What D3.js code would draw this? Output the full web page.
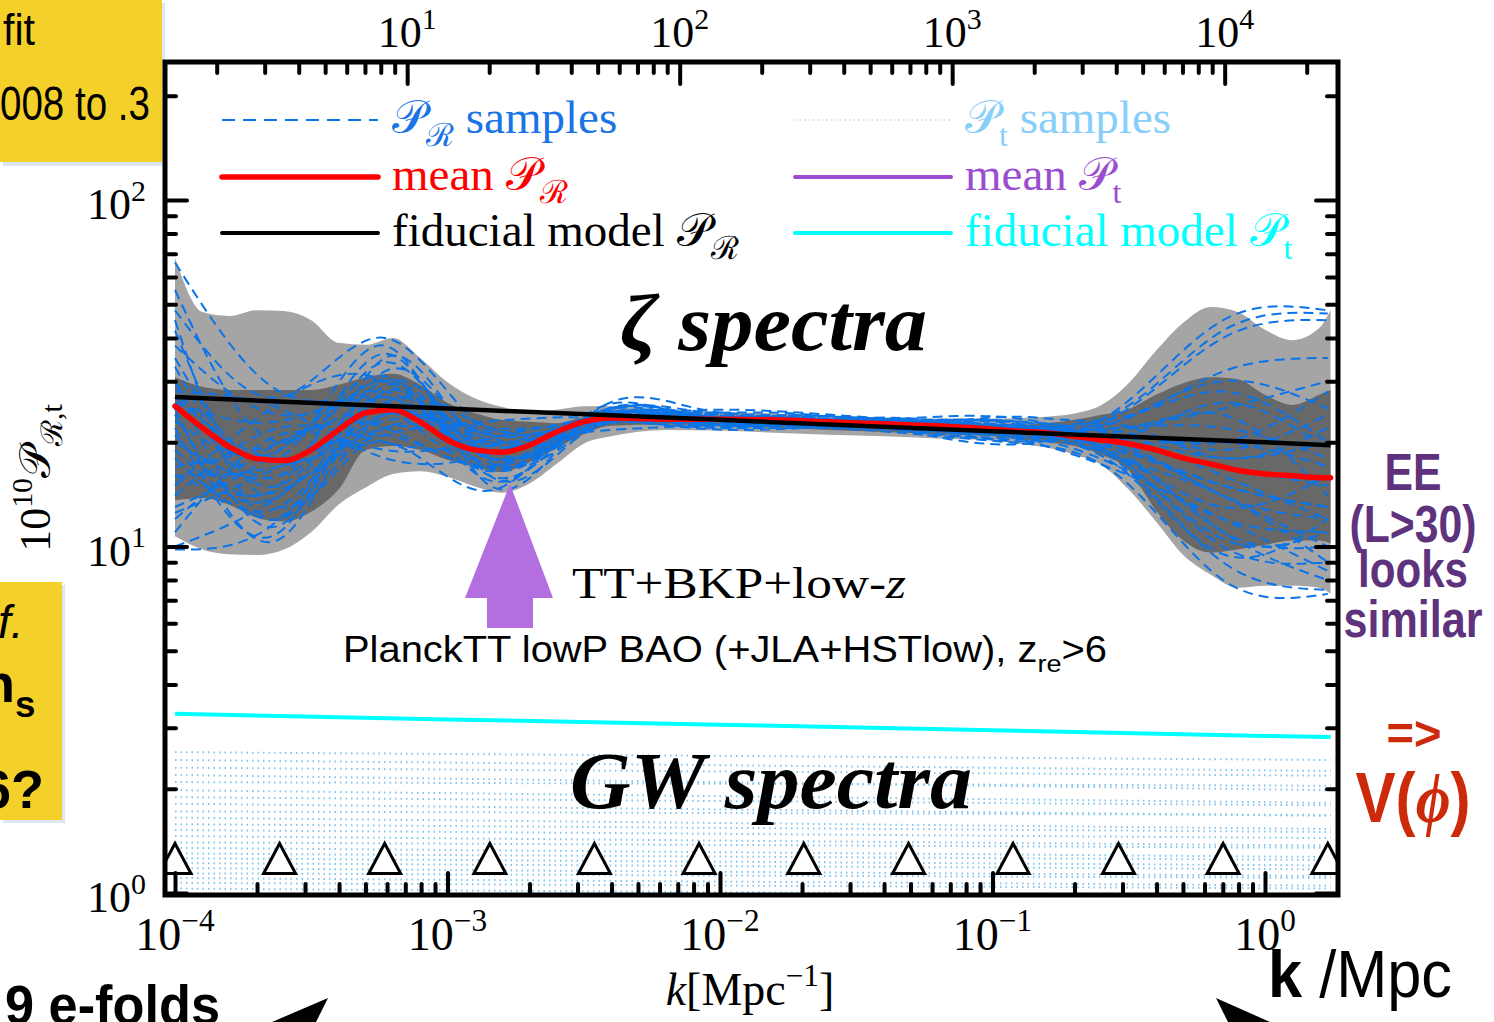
<!DOCTYPE html>
<html>
<head>
<meta charset="utf-8">
<script src="https://cdn.jsdelivr.net/npm/d3@7"></script>
<style>
  body { margin: 0; background: #fff; }
  svg { display: block; }
  text { font-family: "Liberation Serif", "DejaVu Serif", serif; }
  .sans { font-family: "Liberation Sans", Arial, sans-serif; }
</style>
</head>
<body>
<svg id="chart" width="1494" height="1022"></svg>
<script>
// ---- values (10^10 P vs k in 1/Mpc) ----
const kGrid = [1.00e-4, 1.26e-4, 1.58e-4, 2.00e-4, 2.51e-4, 3.16e-4, 3.98e-4, 5.01e-4, 6.31e-4, 7.94e-4,
               1.00e-3, 1.26e-3, 1.58e-3, 2.00e-3, 2.51e-3, 3.16e-3, 3.98e-3, 6.31e-3, 1.00e-2, 1.58e-2,
               2.51e-2, 3.98e-2, 6.31e-2, 0.100, 0.126, 0.158, 0.200, 0.251, 0.316, 0.398,
               0.501, 0.631, 0.794, 1.00, 1.26, 1.58, 1.74];
const meanR = [25.4, 22.0, 19.4, 17.9, 17.7, 19.0, 21.7, 24.3, 24.8, 22.9,
               20.3, 19.0, 18.7, 19.6, 21.4, 22.9, 23.5, 23.3, 23.3, 23.2,
               22.9, 22.6, 22.3, 21.8, 21.5, 21.3, 20.8, 20.3, 19.8, 19.0,
               18.0, 17.3, 16.6, 16.2, 16.0, 15.8, 15.8];
const band68Hi = [30.8, 28.9, 28.3, 28.3, 28.3, 28.3, 29.3, 30.8, 31.5, 29.3,
                  26.0, 24.3, 23.2, 22.9, 22.7, 23.6, 24.1, 24.1, 23.9, 23.7,
                  23.4, 23.1, 22.8, 22.5, 22.5, 22.7, 23.2, 24.0, 24.9, 27.4,
                  29.6, 30.8, 30.4, 27.4, 25.6, 27.4, 28.3];
const band68Lo = [13.6, 13.8, 13.2, 12.1, 11.8, 12.6, 14.6, 19.0, 19.5, 19.0,
                  17.8, 17.0, 16.4, 17.5, 19.2, 21.1, 22.3, 22.5, 22.3, 22.0,
                  21.7, 21.4, 21.1, 20.8, 20.4, 20.0, 19.5, 18.4, 16.6, 12.7,
                  10.4, 9.6, 9.8, 10.1, 10.4, 10.4, 10.2];
const band95Hi = [68.0, 47.5, 46.3, 48.1, 47.8, 45.0, 38.7, 38.2, 40.0, 35.0,
                  29.8, 26.8, 25.3, 24.4, 24.8, 25.4, 25.4, 24.9, 24.5, 24.2,
                  23.9, 23.6, 23.4, 23.4, 23.5, 23.7, 24.2, 25.6, 29.6, 36.7,
                  44.2, 49.1, 47.5, 42.2, 39.4, 42.7, 48.1];
const band95Lo = [10.7, 9.8, 9.5, 9.45, 9.8, 11.0, 13.2, 14.8, 16.2, 16.5,
                  15.9, 14.9, 14.3, 15.2, 17.3, 19.8, 20.8, 21.7, 21.6, 21.3,
                  21.0, 20.8, 20.5, 20.2, 19.8, 19.3, 18.4, 17.2, 14.6, 11.8,
                  9.45, 8.3, 7.6, 7.7, 7.7, 7.6, 7.3];

// spline knots (the triangles) and the sampled P_R curves through them
const knotK = [1.00e-4, 2.42e-4, 5.88e-4, 1.43e-3, 3.46e-3, 8.38e-3, 2.03e-2, 4.92e-2, 0.119, 0.290, 0.702, 1.70];
const sampleR = [
  [66, 28, 26, 19, 23.5, 23.2, 23.0, 22.55, 21.9, 20, 14, 12],
  [30, 15, 30, 20, 22.5, 24.1, 23.45, 21.9, 21.25, 22, 25, 30],
  [12, 20, 22, 17, 24, 22.75, 22.55, 22.8, 22.35, 18, 10, 9],
  [45, 12, 35, 18, 22, 23.65, 23.65, 21.5, 20.6, 24, 40, 45],
  [20, 16, 24, 21, 23, 23.0, 22.35, 22.35, 22.15, 19, 15, 13],
  [25, 10.5, 28, 16, 23.8, 23.85, 23.2, 23.2, 23.0, 21, 18, 20],
  [14, 22, 20, 19.5, 22.8, 22.55, 22.8, 22.1, 21.05, 17, 12, 11],
  [35, 18, 38, 15, 24.5, 24.95, 23.9, 22.55, 20.15, 23, 30, 25],
  [18, 13, 26, 22, 21.5, 22.3, 23.0, 23.0, 22.8, 20, 20, 17],
  [28, 25, 18, 18.5, 23.2, 23.4, 22.25, 21.7, 21.5, 18.5, 11, 8],
  [10, 14, 22, 20, 22.6, 23.65, 23.45, 22.35, 21.7, 21.5, 24, 14],
  [55, 20, 30, 17, 23.6, 22.75, 22.55, 23.45, 23.5, 19.5, 14, 10],
  [22, 11, 32, 19, 22.2, 24.3, 24.1, 21.5, 19.7, 25, 45, 48],
  [16, 17, 21, 23, 23.5, 21.9, 22.0, 22.8, 22.35, 17.5, 9, 7.5],
  [38, 24, 25, 16.5, 24.2, 23.85, 23.0, 21.9, 21.25, 22.5, 18, 22],
  [13, 19, 28, 18, 22.4, 22.75, 23.65, 23.0, 21.9, 20.5, 16, 12],
  [24, 12, 24, 21, 23.3, 23.2, 22.8, 22.1, 20.8, 18, 13, 16],
  [33, 16, 34, 17.5, 23.7, 24.5, 23.2, 22.35, 23.7, 23.5, 28, 20],
  [11, 21, 19, 20.5, 22.9, 22.1, 22.35, 23.2, 22.15, 19, 11, 10],
  [19, 14, 27, 15.5, 24, 23.85, 23.0, 21.7, 20.4, 21, 20, 28],
  [27, 18, 23, 22, 22.7, 23.0, 23.9, 22.8, 22.6, 18, 14, 9],
  [15, 26, 30, 18, 23.1, 23.65, 22.55, 22.1, 21.7, 22, 22, 18],
  [42, 13, 22, 19, 23.9, 22.75, 22.8, 23.45, 21.25, 17, 9.5, 12],
  [21, 15, 36, 16, 22.5, 24.1, 23.45, 21.9, 22.35, 20, 17, 15],
  [17, 20, 25, 21.5, 23.4, 22.55, 22.55, 22.55, 20.6, 16.5, 12, 8.5],
  [30, 11.5, 29, 18, 24.1, 23.4, 23.0, 22.35, 22.15, 23, 32, 35],
  [12.5, 17, 21, 17, 22.3, 23.2, 23.2, 23.0, 23.0, 19.5, 15, 13],
  [26, 23, 27, 20, 23.6, 23.85, 22.35, 21.9, 21.05, 21.5, 19, 24],
  [9.8, 12, 24, 19.5, 23.0, 22.3, 22.8, 22.8, 21.9, 18, 10.5, 11],
  [23, 19, 31, 16.8, 23.3, 23.65, 23.45, 22.1, 21.5, 20.5, 26, 19],
  [48, 27, 40, 21, 22.0, 24.75, 24.3, 23.2, 22.35, 24.5, 42, 47],
  [16, 14.5, 20, 14.5, 24.8, 23.0, 22.0, 21.2, 19.95, 16, 8, 7.3]
];

// fiducial power laws
const fidK = [1e-4, 1e-3, 1e-2, 0.1, 1.0, 1.74];
const fidR = [27.0, 25.0, 23.2, 21.5, 20.0, 19.6];
const fidT = [3.29, 3.17, 3.06, 2.95, 2.84, 2.82];

// P_t samples: value at the left end and at the right end
const tensorK = [1e-4, 1.74];
const tensorLeft  = [2.55, 2.42, 2.30, 2.19, 2.09, 1.98, 1.89, 1.81, 1.72, 1.65, 1.58, 1.52,
                     1.46, 1.40, 1.35, 1.30, 1.26, 1.22, 1.18, 1.14, 1.105, 1.07, 1.03];
const tensorRight = [2.42, 2.25, 2.18, 1.98, 2.04, 1.82, 1.79, 1.67, 1.68, 1.53, 1.50, 1.44,
                     1.37, 1.35, 1.27, 1.245, 1.20, 1.17, 1.12, 1.105, 1.05, 1.03, 0.98];
const triangleLevel = 1.25;
const ellPerK = 14060;   // top axis: multipole ~ k * distance

// ---- layout ----
const svg = d3.select("#chart");
const frame = {l: 165, t: 62, r: 1338, b: 895};

const x = d3.scaleLog().domain([9.19e-5, 1.853]).range([frame.l, frame.r]);
const xTop = d3.scaleLog().domain(x.domain().map(d => d * ellPerK)).range([frame.l, frame.r]);
const y = d3.scaleLog().domain([0.9868, 250.2]).range([frame.b, frame.t]);

const C = {
  blue: "#0a74e8", blueText: "#1a74e6", light: "#87cefa", red: "#ff0000",
  purple: "#9a4dd0", cyan: "#00ffff", arrow: "#b36ee0",
  yellow: "#f4d12a", slidePurple: "#5e327d", slideRed: "#cc2a0a"
};

// text with sub/superscript parts
function rich(sel, parts, size) {
  let shift = 0;
  parts.forEach(p => {
    const s = p.sup ? -0.42 * size : p.sub ? 0.28 * size : 0;
    const ts = sel.append("tspan")
      .attr("dy", s - shift)
      .style("font-size", ((p.sup || p.sub) ? 0.68 * size : size) + "px")
      .text(p.t);
    if (p.it) ts.style("font-style", "italic");
    if (p.bold) ts.style("font-weight", "bold");
    shift = s;
  });
  return sel;
}

// ---- slide decorations behind the chart ----
svg.append("rect").attr("x", 3).attr("y", 3).attr("width", 162).attr("height", 163).attr("fill", "#dde6f3");
svg.append("rect").attr("x", 0).attr("y", 0).attr("width", 162).attr("height", 162).attr("fill", C.yellow);
svg.append("rect").attr("x", 3).attr("y", 585).attr("width", 62).attr("height", 238).attr("fill", "#dde6f3");
svg.append("rect").attr("x", 0).attr("y", 582).attr("width", 62).attr("height", 238).attr("fill", C.yellow);

svg.append("text").attr("class", "sans").attr("x", 3).attr("y", 45)
  .attr("textLength", 32).attr("lengthAdjust", "spacingAndGlyphs")
  .style("font-size", "44px").text("fit");
svg.append("text").attr("class", "sans").attr("x", 0).attr("y", 120)
  .attr("textLength", 150).attr("lengthAdjust", "spacingAndGlyphs")
  .style("font-size", "48px").text("008 to .3");
svg.append("text").attr("class", "sans").attr("x", -2).attr("y", 638)
  .style("font-size", "46px").style("font-style", "italic").text("f.");
svg.append("text").attr("class", "sans").attr("x", -18).attr("y", 702)
  .style("font-weight", "bold").call(t => rich(t, [{t: "n"}, {t: "s", sub: true}], 54));
svg.append("text").attr("class", "sans").attr("x", -19).attr("y", 808)
  .style("font-size", "54px").style("font-weight", "bold").text("6?");

// ---- plot area ----
svg.append("defs").append("clipPath").attr("id", "clip")
  .append("rect").attr("x", frame.l).attr("y", frame.t)
  .attr("width", frame.r - frame.l).attr("height", frame.b - frame.t);

const plot = svg.append("g").attr("clip-path", "url(#clip)");

const band = (lo, hi) => d3.area()
  .x((d, i) => x(kGrid[i]))
  .y0((d, i) => y(lo[i]))
  .y1((d, i) => y(hi[i]))
  .curve(d3.curveMonotoneX)(kGrid);

plot.append("path").attr("d", band(band95Lo, band95Hi)).attr("fill", "#a5a5a5");
plot.append("path").attr("d", band(band68Lo, band68Hi)).attr("fill", "#686868");

const line = d3.line().x(d => x(d[0])).y(d => y(d[1]));

// tensor samples (dotted)
plot.selectAll("path.pt")
  .data(tensorLeft.map((v, i) => [[tensorK[0], v], [tensorK[1], tensorRight[i]]]))
  .join("path").attr("class", "pt")
  .attr("d", line)
  .attr("fill", "none").attr("stroke", "#7fc6f0").attr("stroke-width", 2)
  .attr("stroke-dasharray", "1.5,4");

// P_R samples (dashed)
plot.selectAll("path.sample")
  .data(sampleR.map(s => knotK.map((k, i) => [k, s[i]])))
  .join("path").attr("class", "sample")
  .attr("d", line.curve(d3.curveNatural))
  .attr("fill", "none").attr("stroke", C.blue).attr("stroke-width", 2)
  .attr("stroke-dasharray", "10,6");

const straight = d3.line().x(d => x(d[0])).y(d => y(d[1]));
const smooth = d3.line().x(d => x(d[0])).y(d => y(d[1])).curve(d3.curveMonotoneX);

plot.append("path").attr("d", smooth(kGrid.map((k, i) => [k, meanR[i]])))
  .attr("fill", "none").attr("stroke", C.red).attr("stroke-width", 5.5).attr("stroke-linecap", "round");
plot.append("path").attr("d", straight(fidK.map((k, i) => [k, fidR[i]])))
  .attr("fill", "none").attr("stroke", "#000").attr("stroke-width", 4.5);
plot.append("path").attr("d", straight(fidK.map((k, i) => [k, fidT[i]])))
  .attr("fill", "none").attr("stroke", C.cyan).attr("stroke-width", 4);

// knot markers
plot.selectAll("path.knot").data(knotK).join("path").attr("class", "knot")
  .attr("transform", d => `translate(${x(d)},${y(triangleLevel)})`)
  .attr("d", "M0,-16 L16,14 L-16,14 Z")
  .attr("fill", "#fff").attr("stroke", "#000").attr("stroke-width", 3).attr("stroke-linejoin", "miter");

// in-plot annotations
svg.append("text").attr("x", 620).attr("y", 350)
  .attr("textLength", 307).attr("lengthAdjust", "spacingAndGlyphs")
  .style("font-size", "80px").style("font-weight", "bold").style("font-style", "italic")
  .text("ζ spectra");
svg.append("text").attr("x", 570).attr("y", 808)
  .attr("textLength", 402).attr("lengthAdjust", "spacingAndGlyphs")
  .style("font-size", "80px").style("font-weight", "bold").style("font-style", "italic")
  .text("GW spectra");
svg.append("text").attr("x", 572).attr("y", 598)
  .attr("textLength", 334).attr("lengthAdjust", "spacingAndGlyphs")
  .call(t => rich(t, [{t: "TT+BKP+low-"}, {t: "z", it: true}], 44));
svg.append("text").attr("class", "sans").attr("x", 343).attr("y", 662)
  .attr("textLength", 764).attr("lengthAdjust", "spacingAndGlyphs")
  .call(t => rich(t, [{t: "PlanckTT lowP BAO (+JLA+HSTlow), z"}, {t: "re", sub: true}, {t: ">6"}], 36));

svg.append("path")
  .attr("d", "M510,484 L553,598 L533,598 L533,628 L487,628 L487,598 L465,598 Z")
  .attr("fill", C.arrow);

// ---- frame and ticks ----
svg.append("rect").attr("x", frame.l).attr("y", frame.t)
  .attr("width", frame.r - frame.l).attr("height", frame.b - frame.t)
  .attr("fill", "none").attr("stroke", "#000").attr("stroke-width", 5);

const isMajor = d => Math.abs(Math.log10(d) - Math.round(Math.log10(d))) < 1e-6;

function ticks(axisFn, scale, transform) {
  const all = scale.ticks();
  [[all.filter(d => !isMajor(d)), 11], [all.filter(isMajor), 22]].forEach(([vals, len]) => {
    svg.append("g").attr("transform", transform)
      .call(axisFn(scale).tickValues(vals).tickSize(-len).tickFormat(""))
      .call(g => g.select(".domain").remove())
      .call(g => g.selectAll("line").attr("stroke", "#000").attr("stroke-width", 4)
        .attr("stroke-linecap", "round"));
  });
}
ticks(d3.axisBottom, x, `translate(0,${frame.b})`);
ticks(d3.axisTop, xTop, `translate(0,${frame.t})`);
ticks(d3.axisLeft, y, `translate(${frame.l},0)`);
ticks(d3.axisRight, y, `translate(${frame.r},0)`);

const expLabel = d => {
  const e = Math.round(Math.log10(d));
  return [{t: "10"}, {t: e < 0 ? "\u2212" + (-e) : String(e), sup: true}];
};
x.ticks().filter(isMajor).forEach(d => {
  svg.append("text").attr("x", x(d)).attr("y", 950).attr("text-anchor", "middle")
    .call(t => rich(t, expLabel(d), 46));
});
xTop.ticks().filter(isMajor).forEach(d => {
  svg.append("text").attr("x", xTop(d)).attr("y", 47).attr("text-anchor", "middle")
    .call(t => rich(t, expLabel(d), 44));
});
y.ticks().filter(isMajor).forEach(d => {
  svg.append("text").attr("x", 146).attr("y", y(d) + 19).attr("text-anchor", "end")
    .call(t => rich(t, expLabel(d), 44));
});

// axis titles
svg.append("text").attr("x", 750).attr("y", 1005).attr("text-anchor", "middle")
  .call(t => rich(t, [{t: "k", it: true}, {t: "[Mpc"}, {t: "\u22121", sup: true}, {t: "]"}], 46));
svg.append("text").attr("transform", "translate(50,478) rotate(-90)").attr("text-anchor", "middle")
  .call(t => rich(t, [{t: "10"}, {t: "10", sup: true}, {t: "\u{1D4AB}"}, {t: "\u211B,t", sub: true}], 44));

// ---- legend ----
const legend = [
  {col: 0, row: 0, stroke: C.blue, width: 2, dash: "13,8", color: C.blueText,
   parts: [{t: "\u{1D4AB}"}, {t: "\u211B", sub: true}, {t: " samples"}]},
  {col: 0, row: 1, stroke: C.red, width: 5.5, color: C.red,
   parts: [{t: "mean "}, {t: "\u{1D4AB}"}, {t: "\u211B", sub: true}]},
  {col: 0, row: 2, stroke: "#000", width: 4, color: "#000",
   parts: [{t: "fiducial model "}, {t: "\u{1D4AB}"}, {t: "\u211B", sub: true}]},
  {col: 1, row: 0, stroke: "#b5e0f8", width: 1.5, dash: "1.5,3", color: C.light,
   parts: [{t: "\u{1D4AB}"}, {t: "t", sub: true}, {t: " samples"}]},
  {col: 1, row: 1, stroke: C.purple, width: 4, color: C.purple,
   parts: [{t: "mean "}, {t: "\u{1D4AB}"}, {t: "t", sub: true}]},
  {col: 1, row: 2, stroke: C.cyan, width: 4, color: C.cyan,
   parts: [{t: "fiducial model "}, {t: "\u{1D4AB}"}, {t: "t", sub: true}]}
];
const colX = [222, 795], rowY = [120, 177, 233];
legend.forEach(d => {
  const lx = colX[d.col], ly = rowY[d.row];
  svg.append("line").attr("x1", lx).attr("x2", lx + 156).attr("y1", ly).attr("y2", ly)
    .attr("stroke", d.stroke).attr("stroke-width", d.width)
    .attr("stroke-dasharray", d.dash || null).attr("stroke-linecap", d.dash ? "butt" : "round");
  svg.append("text").attr("x", lx + 170).attr("y", ly + 13).attr("fill", d.color)
    .call(t => rich(t, d.parts, 47));
});

// ---- slide texts around the chart ----
const side = [
  {t: "EE", y: 490, w: 57}, {t: "(L>30)", y: 542, w: 127},
  {t: "looks", y: 587, w: 110}, {t: "similar", y: 637, w: 139}
];
side.forEach(d => {
  svg.append("text").attr("class", "sans").attr("x", 1413).attr("y", d.y).attr("text-anchor", "middle")
    .attr("textLength", d.w).attr("lengthAdjust", "spacingAndGlyphs")
    .style("font-size", "52px").style("font-weight", "bold").attr("fill", C.slidePurple).text(d.t);
});
svg.append("text").attr("class", "sans").attr("x", 1414).attr("y", 750).attr("text-anchor", "middle")
  .attr("textLength", 55).attr("lengthAdjust", "spacingAndGlyphs")
  .style("font-size", "48px").style("font-weight", "bold").attr("fill", C.slideRed).text("=>");
svg.append("text").attr("class", "sans").attr("transform", "translate(1413,822) scale(0.86,1)")
  .attr("text-anchor", "middle")
  .style("font-size", "70px").style("font-weight", "bold").attr("fill", C.slideRed)
  .call(t => {
    t.append("tspan").text("V(");
    t.append("tspan").style("font-style", "italic").style("font-family", "'Liberation Serif', serif").text("\u03D5");
    t.append("tspan").text(")");
  });

svg.append("text").attr("class", "sans").attr("x", 5).attr("y", 1024)
  .attr("textLength", 215).attr("lengthAdjust", "spacingAndGlyphs")
  .style("font-size", "56px").style("font-weight", "bold").text("9 e-folds");
svg.append("text").attr("class", "sans").attr("x", 1268).attr("y", 997)
  .attr("textLength", 184).attr("lengthAdjust", "spacingAndGlyphs")
  .style("font-size", "66px")
  .call(t => {
    t.append("tspan").style("font-weight", "bold").text("k");
    t.append("tspan").text(" /Mpc");
  });
svg.append("path").attr("d", "M328,998 L272,1022 L316,1022 Z").attr("fill", "#000");
svg.append("path").attr("d", "M1216,998 L1228,1022 L1270,1022 Z").attr("fill", "#000");
</script>
</body>
</html>
